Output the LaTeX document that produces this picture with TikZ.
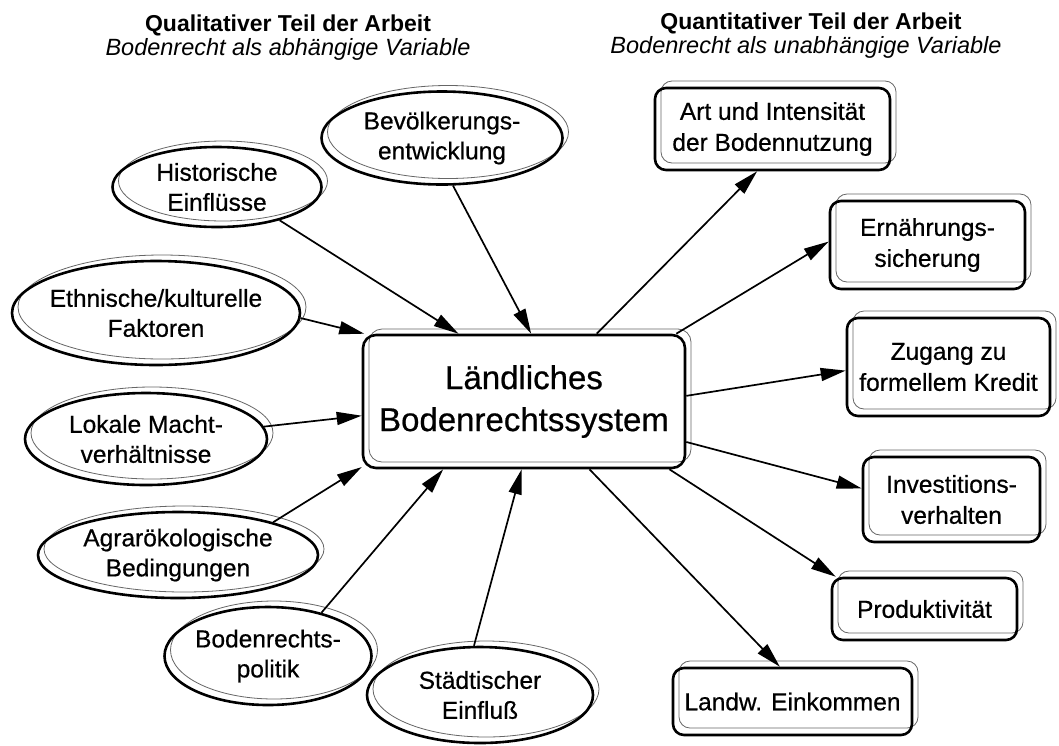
\documentclass[tikz,border=0pt]{standalone}
\usepackage{fontspec}
\setmainfont{Liberation Sans}
\newfontfamily\heavyfont{Liberation Sans}[FakeBold=0.6]
\usetikzlibrary{arrows.meta,shapes.geometric}
\tikzset{
  thickline/.style={draw=black, line width=2.6pt},
  thinline/.style={draw=black!60, line width=0.8pt},
  ovalthick/.style={ellipse, thickline, inner xsep=-10pt, inner ysep=-8pt, align=center, font=\heavyfont\fontsize{24.5}{30}\selectfont},
  ovalthin/.style={ellipse, thinline, inner xsep=-10pt, inner ysep=-8pt},
  boxthick/.style={rectangle, rounded corners=11pt, thickline, inner sep=0pt, align=center, font=\heavyfont\fontsize{24.5}{31}\selectfont},
  boxthin/.style={rectangle, rounded corners=11pt, thinline, inner sep=0pt},
  arr/.style={line width=1.7pt, -{Triangle[length=25pt,width=13pt]}},
  titlebf/.style={anchor=base, font=\fontsize{23}{27}\selectfont\bfseries},
  titleit/.style={anchor=base, font=\fontsize{23.5}{27}\selectfont\itshape}
}
\newcommand\ovalpair[6]{%
  \node[ovalthin, minimum width=#4pt, minimum height=#5pt] (#1-s) at (#2+6,#3-6) {};
  \node[ovalthick, minimum width=#4pt, minimum height=#5pt] (#1) at (#2,#3) {#6};
}
\newcommand\boxpair[6]{%
  \node[boxthin, minimum width=#4pt, minimum height=#5pt] (#1-s) at (#2+6,#3-7) {};
  \node[boxthick, minimum width=#4pt, minimum height=#5pt] (#1) at (#2,#3) {#6};
}
\begin{document}
\begin{tikzpicture}[x=1pt,y=-1pt]
\fill[white] (0,0) rectangle (1059,745);
\useasboundingbox (0,0) rectangle (1059,745);

% titles
\node[titlebf] (tl1) at (288,31) {Qualitativer Teil der Arbeit};
\node[titleit] (tl2) at (288,55) {Bodenrecht als abhängige Variable};
\node[titlebf] (tr1) at (811,29) {Quantitativer Teil der Arbeit};
\node[titleit] (tr2) at (806,53) {Bodenrecht als unabhängige Variable};

% centre
\node[boxthin, rounded corners=13pt, minimum width=322pt, minimum height=133pt] (c-s) at (530,395.5) {};
\node[boxthick, rounded corners=13pt, minimum width=322pt, minimum height=133pt,
      font=\heavyfont\fontsize{33}{42}\selectfont] (c) at (524,401.5) {Ländliches\\Bodenrechtssystem};

% left ovals
\ovalpair{bev}{442}{138}{241}{93}{Bevölkerungs-\\entwicklung}
\ovalpair{hist}{217}{187}{209}{80}{Historische\\Einflüsse}
\ovalpair{eth}{156}{313}{288}{104}{Ethnische/kulturelle\\Faktoren}
\ovalpair{lok}{146}{439}{242}{92}{Lokale Macht-\\verhältnisse}
\ovalpair{agr}{178}{555}{280}{86}{Agrarökologische\\Bedingungen}
\ovalpair{bod}{268}{656}{207}{98}{Bodenrechts-\\politik}
\ovalpair{sta}{480}{695}{226}{96}{Städtischer\\Einfluß}

% right boxes
\boxpair{art}{772.5}{129}{235}{82}{Art und Intensität\\der Bodennutzung}
\boxpair{ern}{927.5}{245}{195}{88}{Ernährungs-\\sicherung}
\boxpair{zug}{948.5}{367}{203}{98}{Zugang zu\\formellem Kredit}
\boxpair{inv}{951.5}{499.5}{177}{85}{Investitions-\\verhalten}
\boxpair{pro}{924.5}{609}{185}{62}{Produktivität}
\boxpair{lan}{792.5}{701.5}{239}{67}{Landw. Einkommen}

% incoming arrows
\draw[arr] (hist.-28) -- (c.134);
\draw[arr] (bev.-77) -- (c.84);
\draw[arr] (eth.-2) -- (c.157);
\draw[arr] (lok.6) -- (c.185);
\draw[arr] (agr.19) -- (c.202);
\draw[arr] (bod.39) -- (c.220);
\draw[arr] (sta.97) -- (c.268);
% outgoing arrows
\draw[arr] (c.43) -- (art.250);
\draw[arr] (c.24) -- (ern.178);
\draw[arr] (c.2) -- (zug.182);
\draw[arr] (c.-14) -- (inv.173);
\draw[arr] (c.-25) -- (pro.160);
\draw[arr] (c.-46) -- (lan.110);
\end{tikzpicture}
\end{document}
